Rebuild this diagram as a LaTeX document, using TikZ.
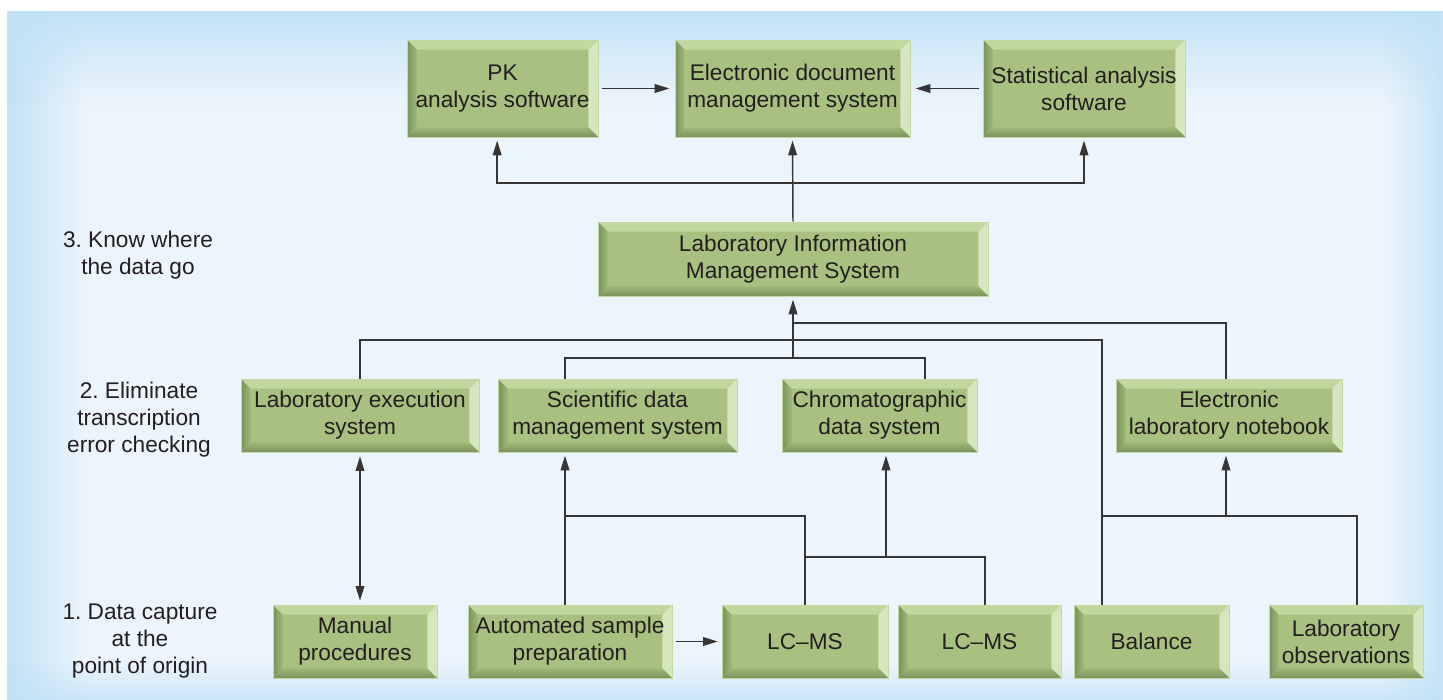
\documentclass[tikz,border=0pt]{standalone}
\usepackage{fontspec}
\setmainfont{Liberation Sans}
\usetikzlibrary{arrows.meta,fadings}
\frenchspacing

\definecolor{txt}{HTML}{231F20}
\definecolor{wirec}{HTML}{363636}
\definecolor{panel}{HTML}{EDF5FC}
\definecolor{edgeblue}{HTML}{C2E2F6}
\definecolor{bvface}{RGB}{168,193,128}
\definecolor{bvtop}{RGB}{192,215,158}
\definecolor{bvright}{RGB}{214,231,192}
\definecolor{bvdark}{RGB}{122,146,90}
\definecolor{bvmid}{RGB}{158,184,120}
\definecolor{bvline}{RGB}{196,216,166}

\newcommand\bevw{7.2pt}

\tikzset{
  bev/.style={fill=bvface, draw=bvline, line width=0.4pt, inner sep=0pt,
    align=center, text=txt, font=\fontsize{17}{20.25}\selectfont,
    path picture={
      \fill[bvtop] (path picture bounding box.north west) -- (path picture bounding box.north east)
        -- ([shift={(-\bevw,-\bevw)}]path picture bounding box.north east)
        -- ([shift={(\bevw,-\bevw)}]path picture bounding box.north west) -- cycle;
      \fill[bvright] (path picture bounding box.north east) -- (path picture bounding box.south east)
        -- ([shift={(-\bevw,\bevw)}]path picture bounding box.south east)
        -- ([shift={(-\bevw,-\bevw)}]path picture bounding box.north east) -- cycle;
      \shade[left color=bvdark, right color=bvmid] (path picture bounding box.north west)
        -- ([shift={(\bevw,-\bevw)}]path picture bounding box.north west)
        -- ([shift={(\bevw,\bevw)}]path picture bounding box.south west)
        -- (path picture bounding box.south west) -- cycle;
      \shade[bottom color=bvdark, top color=bvmid] (path picture bounding box.south west)
        -- ([shift={(\bevw,\bevw)}]path picture bounding box.south west)
        -- ([shift={(-\bevw,\bevw)}]path picture bounding box.south east)
        -- (path picture bounding box.south east) -- cycle;
    }},
  lbl/.style={align=center, text=txt, inner sep=0pt, font=\fontsize{17}{20.25}\selectfont},
  wire/.style={draw=wirec, line width=1.1pt},
  tip/.tip={Triangle[length=11pt,width=6.5pt]},
  arr/.style={wire, -tip, shorten >=2.5pt},
  darr/.style={wire, tip-tip, shorten >=3pt, shorten <=3pt}
}

% bevelled box given by its pixel corners: name, x1, y1, x2, y2, text
\newcommand\bbox[6]{\node[bev, minimum width={(#4-#2)*0.75pt}, minimum height={(#5-#3)*0.75pt}]
  (#1) at ({(#2+#4)/2},{(#3+#5)/2}) {#6};}

\begin{document}
\begin{tikzpicture}[x=0.75pt, y=-0.75pt]
\useasboundingbox (0,0) rectangle (1443,700);
\fill[white] (0,0) rectangle (1443,700);

% panel with soft blue edges
\fill[panel] (7,11) rectangle (1443,700);
\fill[edgeblue, path fading=east] (7,11) rectangle (85,700);
\fill[edgeblue, path fading=south] (7,11) rectangle (1443,105);
\fill[edgeblue, path fading=west, opacity=0.9] (1385,11) rectangle (1443,700);
\fill[edgeblue, path fading=north, opacity=0.8] (7,660) rectangle (1443,700);

% level captions
\node[lbl] (L3) at (138,255) {3. Know where\\the data go};
\node[lbl] (L2) at (139,420) {2. Eliminate\\transcription\\error checking};
\node[lbl] (L1) at (140,641) {1. Data capture\\at the\\point of origin};

% top row
\bbox{PK}{407}{40}{598}{137}{PK\\analysis software}
\bbox{EDMS}{675}{40}{910}{137}{Electronic document\\management system}
\bbox{Stat}{983}{40}{1185}{137}{Statistical analysis\\software}

% LIMS
\bbox{LIMS}{598}{222}{988}{296}{Laboratory Information\\Management System}

% middle row
\bbox{LES}{241}{379}{479}{452}{Laboratory execution\\system}
\bbox{SDMS}{498}{379}{737}{452}{Scientific data\\management system}
\bbox{CDS}{782}{379}{977}{452}{Chromatographic\\data system}
\bbox{ELN}{1116}{379}{1342}{452}{Electronic\\laboratory notebook}

% bottom row
\bbox{Manual}{273}{605}{437}{678}{Manual\\procedures}
\bbox{ASP}{468}{605}{672}{678}{Automated sample\\preparation}
\bbox{LCMS1}{722}{605}{888}{678}{LC--MS}
\bbox{LCMS2}{898}{605}{1061}{678}{LC--MS}
\bbox{Balance}{1074}{605}{1229}{678}{Balance}
\bbox{LabObs}{1269}{605}{1423}{678}{Laboratory\\observations}

% routing points
\coordinate (busTop) at (793,183);
\coordinate (hubHigh) at (793,323);
\coordinate (hubMid) at (793,340);
\coordinate (hubLow) at (793,358);
\coordinate (sdmsFeed) at (565,516);
\coordinate (cdsFeed) at (886,557);
\coordinate (balJoin) at (1102,516);
\coordinate (elnFeed) at (1226,516);

% top connections
\draw[arr, shorten <=3pt, shorten >=4pt] (PK.east) -- (EDMS.west);
\draw[arr, shorten <=3pt, shorten >=4pt] (Stat.west) -- (EDMS.east);
\draw[arr] (LIMS.north) -- (EDMS.south);
\draw[arr] (busTop) -| ([xshift=-4pt]PK.south);
\draw[arr] (busTop) -| (Stat.south);

% into LIMS
\draw[arr] (hubLow) -- (LIMS.south);
\draw[wire] (SDMS.north -| 565,0) |- (hubLow) -| (CDS.north -| 925,0);
\draw[wire] (LES.north) |- (hubMid) -| (Balance.north -| 1102,0);
\draw[wire] (hubHigh) -| (ELN.north -| 1226,0);

% capture level
\draw[darr] (LES.south) -- (LES.south |- Manual.north);
\draw[arr, shorten <=3pt, shorten >=3pt] (ASP.east) -- (LCMS1.west);
\draw[arr] (ASP.north -| sdmsFeed) -- (SDMS.south -| sdmsFeed);
\draw[wire] (sdmsFeed) -| (LCMS1.north);
\draw[arr] (cdsFeed) -- (CDS.south -| cdsFeed);
\draw[wire] (LCMS1.north |- cdsFeed) -| (LCMS2.north -| 985,0);
\draw[arr] (elnFeed) -- (ELN.south -| elnFeed);
\draw[wire] (balJoin) -| (LabObs.north -| 1357,0);
\end{tikzpicture}
\end{document}
